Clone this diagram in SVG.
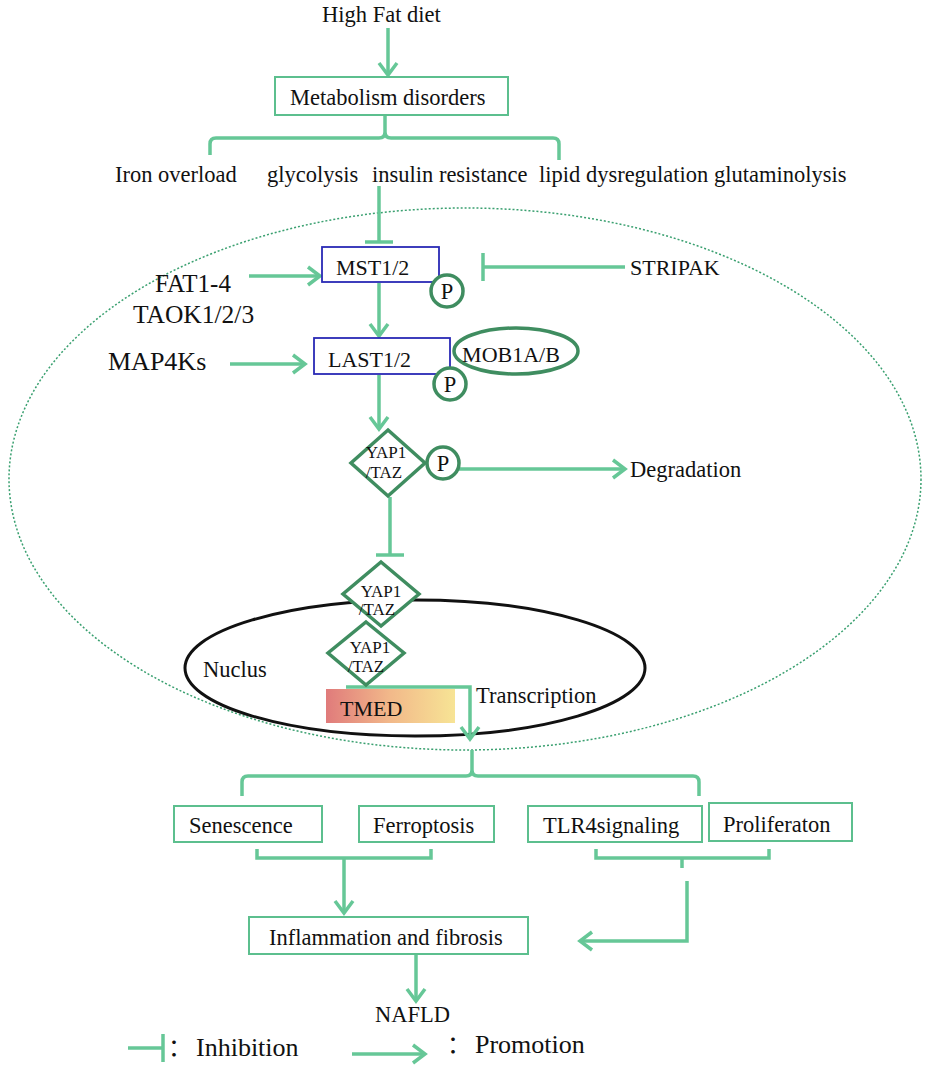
<svg xmlns="http://www.w3.org/2000/svg" width="931" height="1073" viewBox="0 0 931 1073">
<defs>
<style>
.ln{fill:none;stroke:#66c797;stroke-width:3.5;stroke-linejoin:miter}
.bx{fill:#fff;stroke:#5cbf8e;stroke-width:2}
.bl{fill:#fff;stroke:#2a2ab5;stroke-width:1.8}
.dk{fill:#fff;stroke:#3f8d60;stroke-width:3.5}
.t{font-family:"Liberation Serif","Times New Roman","Noto Sans CJK SC",serif;fill:#111;font-size:22.5px}
.y{font-size:17px}
</style>
<marker id="arr" viewBox="-14 -11 16 22" markerWidth="16" markerHeight="22" refX="0" refY="0" orient="auto" markerUnits="userSpaceOnUse" overflow="visible">
<path d="M-12,-9 L0,0 L-12,9" fill="none" stroke="#66c797" stroke-width="3.5"/>
</marker>
<marker id="bar" viewBox="-3 -16 6 32" markerWidth="6" markerHeight="32" refX="0" refY="0" orient="auto" markerUnits="userSpaceOnUse" overflow="visible">
<line x1="0" y1="-14" x2="0" y2="14" stroke="#66c797" stroke-width="3.5"/>
</marker>
<linearGradient id="grad" x1="0" y1="0" x2="1" y2="0">
<stop offset="0" stop-color="#e07b7b"/>
<stop offset="0.5" stop-color="#f2b98a"/>
<stop offset="1" stop-color="#f7e495"/>
</linearGradient>
</defs>
<rect width="931" height="1073" fill="#fff"/>

<ellipse id="cell" cx="465" cy="479" rx="456" ry="271" fill="none" stroke="#3aa070" stroke-width="1.5" stroke-dasharray="2,2"/>

<g id="nucleus">
<ellipse cx="415" cy="668" rx="230" ry="68" fill="none" stroke="#111" stroke-width="3"/>
<text class="t" x="203" y="677">Nuclus</text>
</g>

<g id="connectors">
<line class="ln" x1="388" y1="28" x2="388" y2="75" marker-end="url(#arr)"/>
<path class="ln" d="M210,155 V144 Q210,138 216,138 H379 Q385,138 385,132 V115 M385,132 Q385,138 391,138 H553 Q559,138 559,144 V160"/>
<line class="ln" x1="379" y1="186" x2="379" y2="242" marker-end="url(#bar)"/>
<line class="ln" x1="249" y1="276" x2="320" y2="276" marker-end="url(#arr)"/>
<line class="ln" x1="625" y1="267" x2="483" y2="267" marker-end="url(#bar)"/>
<line class="ln" x1="379" y1="283" x2="379" y2="336" marker-end="url(#arr)"/>
<line class="ln" x1="230" y1="364" x2="305" y2="364" marker-end="url(#arr)"/>
<line class="ln" x1="379" y1="375" x2="379" y2="429" marker-end="url(#arr)"/>
<line class="ln" x1="459" y1="469" x2="625" y2="469" marker-end="url(#arr)"/>
<line class="ln" x1="390" y1="497" x2="390" y2="555" marker-end="url(#bar)"/>
<path class="ln" d="M346,687 H470 V739" marker-end="url(#arr)"/>
<line class="ln" x1="472" y1="750" x2="472" y2="770"/>
<path class="ln" d="M242,796 V782 Q242,776 248,776 H466 Q472,776 472,770 M472,770 Q472,776 478,776 H693 Q699,776 699,782 V796"/>
<path class="ln" d="M257,849 V858 H431 V849 M344,858 V913" marker-end="url(#arr)"/>
<path class="ln" d="M596,849 V858 H769 V849 M682,858 V868"/>
<path class="ln" d="M687,881 V941 H580" marker-end="url(#arr)"/>
<line class="ln" x1="416" y1="955" x2="416" y2="1001" marker-end="url(#arr)"/>
<line class="ln" x1="128" y1="1048" x2="163" y2="1048" marker-end="url(#bar)"/>
<line class="ln" x1="352" y1="1054" x2="425" y2="1054" marker-end="url(#arr)"/>
</g>

<g id="n-hfd"><text class="t" x="322" y="22">High Fat diet</text></g>
<g id="n-metab"><rect class="bx" x="275" y="77" width="233" height="38"/><text class="t" x="290" y="105">Metabolism disorders</text></g>
<g id="n-factors">
<text class="t" x="115" y="182">Iron overload</text>
<text class="t" x="267" y="182">glycolysis</text>
<text class="t" x="372" y="182">insulin resistance</text>
<text class="t" x="539" y="182">lipid dysregulation glutaminolysis</text>
</g>

<g id="n-mst"><rect class="bl" x="322" y="247" width="117" height="35"/><text class="t" x="336" y="275" style="font-size:22px">MST1/2</text></g>
<g id="n-mstp"><circle class="dk" cx="447" cy="291" r="16"/><text class="t" x="447" y="299" text-anchor="middle">P</text></g>
<g id="n-fat"><text class="t" x="155" y="292" style="font-size:25px">FAT1-4</text><text class="t" x="133" y="323" style="font-size:25.5px">TAOK1/2/3</text></g>
<g id="n-stripak"><text class="t" x="630" y="275" style="font-size:22px">STRIPAK</text></g>

<g id="n-last"><rect class="bl" x="314" y="338" width="136" height="36"/><text class="t" x="328" y="367" style="font-size:22px">LAST1/2</text></g>
<g id="n-lastp"><circle class="dk" cx="450" cy="384" r="16"/><text class="t" x="450" y="392" text-anchor="middle">P</text></g>
<g id="n-mob"><ellipse class="dk" cx="516" cy="351" rx="62" ry="23"/><text class="t" x="511" y="362" text-anchor="middle" style="font-size:22px">MOB1A/B</text></g>
<g id="n-map4k"><text class="t" x="108" y="370" style="font-size:26px">MAP4Ks</text></g>

<g id="n-yap1"><polygon class="dk" points="388,430 425,463 388,496 351,463"/><text class="t y" x="386" y="458" text-anchor="middle">YAP1</text><text class="t y" x="384" y="478" text-anchor="middle">/TAZ</text></g>
<g id="n-yap1p"><circle class="dk" cx="443" cy="463" r="16"/><text class="t" x="443" y="471" text-anchor="middle">P</text></g>
<g id="n-degr"><text class="t" x="630" y="477">Degradation</text></g>

<g id="n-yap2"><polygon class="dk" points="381,562 419,594 381,626 343,594"/><text class="t y" x="381" y="597" text-anchor="middle">YAP1</text><text class="t y" x="377" y="615" text-anchor="middle">/TAZ</text></g>
<g id="n-yap3"><polygon class="dk" points="366,622 404,653 366,685 328,653"/><text class="t y" x="370" y="653" text-anchor="middle">YAP1</text><text class="t y" x="366" y="672" text-anchor="middle">/TAZ</text></g>

<g id="n-tmed"><rect x="326" y="689" width="129" height="34" fill="url(#grad)"/><text class="t" x="340" y="716" style="font-size:22px">TMED</text></g>
<g id="n-transc"><text class="t" x="476" y="703">Transcription</text></g>

<g id="n-sen"><rect class="bx" x="174" y="806" width="148" height="36"/><text class="t" x="189" y="833">Senescence</text></g>
<g id="n-fer"><rect class="bx" x="359" y="806" width="135" height="36"/><text class="t" x="373" y="833">Ferroptosis</text></g>
<g id="n-tlr"><rect class="bx" x="528" y="806" width="174" height="36"/><text class="t" x="543" y="833">TLR4signaling</text></g>
<g id="n-pro"><rect class="bx" x="709" y="803" width="143" height="38"/><text class="t" x="723" y="832">Proliferaton</text></g>

<g id="n-infl"><rect class="bx" x="249" y="917" width="279" height="37"/><text class="t" x="269" y="945">Inflammation and fibrosis</text></g>
<g id="n-nafld"><text class="t" x="375" y="1022">NAFLD</text></g>

<g id="legend">
<text class="t" x="168" y="1056" style="font-size:24px">：</text>
<text class="t" x="196" y="1056" style="font-size:26px">Inhibition</text>
<text class="t" x="447" y="1053" style="font-size:24px">：</text>
<text class="t" x="475" y="1053" style="font-size:26px">Promotion</text>
</g>
</svg>
